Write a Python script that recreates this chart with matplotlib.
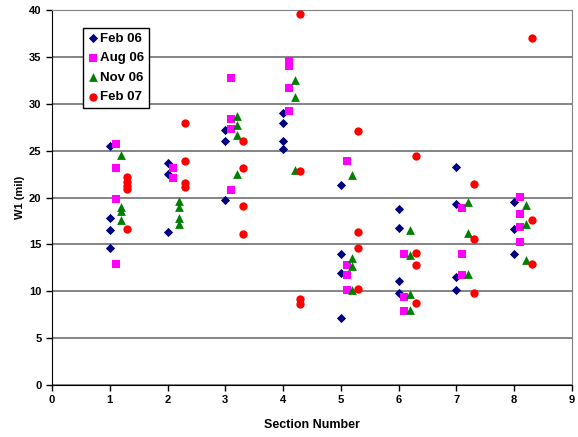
import matplotlib
matplotlib.use("Agg")
import matplotlib.pyplot as plt

plt.rcParams['font.family'] = ['Liberation Sans', 'DejaVu Sans']

sections = [1, 2, 3, 4, 5, 6, 7, 8]
series_names = ["Feb 06", "Aug 06", "Nov 06", "Feb 07"]

feb06 = {1: [25.5, 17.8, 16.5, 14.6], 2: [23.7, 22.5, 16.3], 3: [27.2, 26.0, 19.7],
         4: [29.0, 27.9, 26.0, 25.2], 5: [21.3, 14.0, 12.0, 7.1], 6: [18.8, 16.8, 11.1, 9.8],
         7: [23.3, 19.3, 11.5, 10.1], 8: [19.5, 16.6, 14.0]}
aug06 = {1: [25.7, 23.1, 19.8, 12.9], 2: [23.1, 22.1], 3: [32.7, 28.4, 27.3, 20.8],
         4: [34.6, 34.0, 31.7, 29.2], 5: [23.9, 12.8, 11.7, 10.1], 6: [14.0, 9.4, 7.9],
         7: [18.9, 14.0, 11.7], 8: [20.1, 18.2, 16.9, 15.3]}
nov06 = {1: [24.5, 19.0, 18.6, 17.6], 2: [19.6, 19.0, 17.8, 17.2], 3: [28.7, 27.7, 26.7, 22.5],
         4: [32.5, 30.7, 22.9], 5: [22.4, 13.5, 12.7, 10.1], 6: [16.5, 13.9, 9.7, 8.0],
         7: [19.5, 16.2, 11.8], 8: [19.2, 17.2, 13.3]}
feb07 = {1: [22.2, 21.7, 21.2, 20.9, 16.6], 2: [28.0, 23.9, 21.6, 21.1], 3: [26.0, 23.1, 19.1, 16.1],
         4: [39.6, 22.8, 9.2, 8.6], 5: [27.1, 16.3, 14.6, 10.2], 6: [24.4, 14.1, 12.8, 8.8],
         7: [21.4, 15.6, 9.8], 8: [37.0, 17.6, 12.9]}

all_series = [feb06, aug06, nov06, feb07]
offsets = [0.0, 0.1, 0.2, 0.3]
markers = ["D", "s", "^", "o"]
colors = ["#000080", "#FF00FF", "#008000", "#FF0000"]
sizes = [22, 40, 40, 36]

fig = plt.figure(figsize=(5.78, 4.37), dpi=100)
ax = fig.add_axes([52 / 578, 1 - 385 / 437, 520 / 578, 375 / 437])

for data, off, mk, col, sz, name in zip(all_series, offsets, markers, colors, sizes, series_names):
    xs, ys = [], []
    for s in sections:
        for v in data.get(s, []):
            xs.append(s + off)
            ys.append(v)
    ax.scatter(xs, ys, marker=mk, c=col, s=sz, linewidths=0, label=name, zorder=3)

ax.set_xlim(0, 9)
ax.set_ylim(0, 40)
ax.set_xticks(range(0, 10))
ax.set_yticks(range(0, 41, 5))
ax.yaxis.grid(True, color="#707070", linewidth=1.2)
ax.set_axisbelow(True)
for side in ["top", "right"]:
    ax.spines[side].set_color("#808080")
for side in ["left", "bottom"]:
    ax.spines[side].set_color("black")
ax.tick_params(axis="both", labelsize=8, length=4, width=1, direction="out")
for lbl in ax.get_xticklabels() + ax.get_yticklabels():
    lbl.set_fontweight("bold")
ax.set_xlabel("Section Number", fontsize=9, fontweight="bold", labelpad=10)
ax.set_ylabel("W1 (mil)", fontsize=8, fontweight="bold", labelpad=3)

leg = ax.legend(loc="upper left", bbox_to_anchor=((83 - 52) / 520, 1 - (28 - 10) / 375),
                borderaxespad=0, frameon=True,
                fancybox=False, edgecolor="black", framealpha=1,
                prop={"weight": "bold", "size": 9.5}, handletextpad=0.15,
                handlelength=0.8, borderpad=0.35, labelspacing=0.55, scatterpoints=1,
                handleheight=0.7)
leg.get_frame().set_linewidth(1.0)

fig.savefig("out.png", dpi=100)
